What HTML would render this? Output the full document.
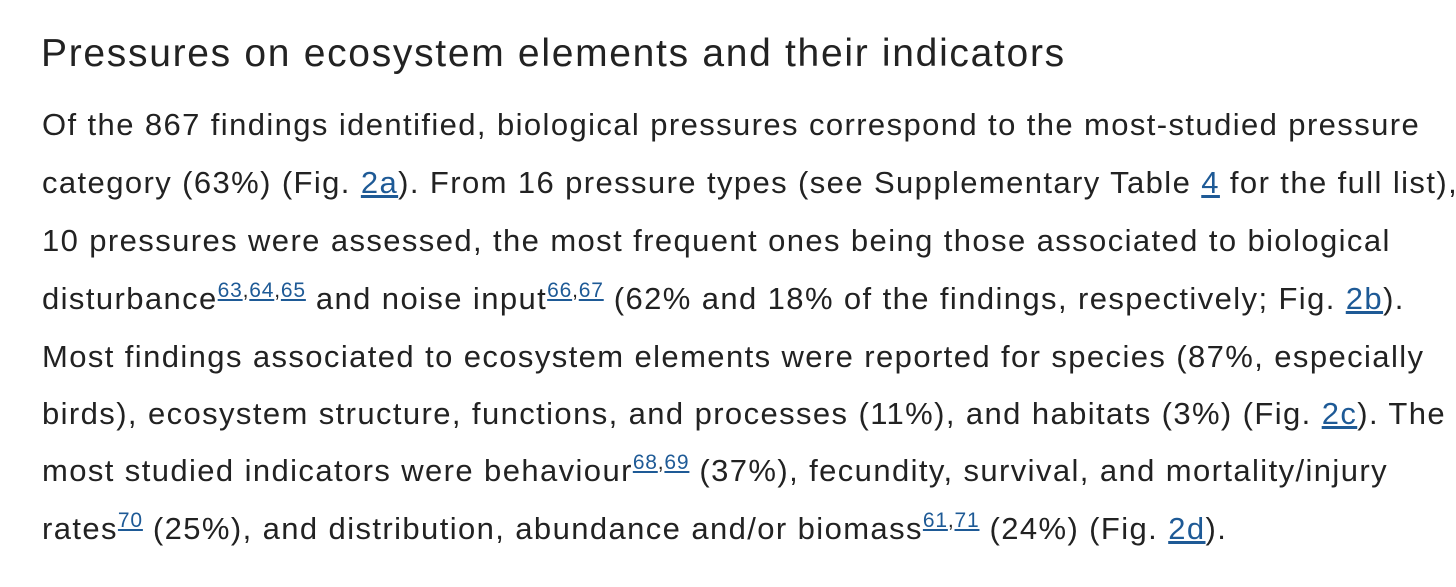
<!DOCTYPE html>
<html><head><meta charset="utf-8">
<style>
html,body{margin:0;padding:0;background:#fff;}
body{width:1456px;height:587px;position:relative;overflow:hidden;font-family:"Liberation Sans",Arial,sans-serif;color:#222;}
h2{position:absolute;left:41px;top:30px;margin:0;font-weight:400;font-size:39px;line-height:48px;white-space:nowrap;letter-spacing:1.7px;}
.l{position:absolute;left:42px;font-size:31px;line-height:40px;white-space:nowrap;letter-spacing:1.4px;}
a{color:#1e5a96;text-decoration:underline;}
sup{font-size:21px;vertical-align:0;position:relative;top:-12px;line-height:0;letter-spacing:0.8px;}
</style></head><body>
<h2>Pressures on ecosystem elements and their indicators</h2>
<div>
<div class="l" style="top:105px">Of the 867 findings identified, biological pressures correspond to the most-studied pressure</div>
<div class="l" style="top:163px">category (63%) (Fig. <a>2a</a>). From 16 pressure types (see Supplementary Table <a>4</a> for the full list),</div>
<div class="l" style="top:221px">10 pressures were assessed, the most frequent ones being those associated to biological</div>
<div class="l" style="top:279px">disturbance<sup><a>63</a>,<a>64</a>,<a>65</a></sup> and noise input<sup><a>66</a>,<a>67</a></sup> (62% and 18% of the findings, respectively; Fig. <a>2b</a>).</div>
<div class="l" style="top:337px">Most findings associated to ecosystem elements were reported for species (87%, especially</div>
<div class="l" style="top:394px">birds), ecosystem structure, functions, and processes (11%), and habitats (3%) (Fig. <a>2c</a>). The</div>
<div class="l" style="top:451px">most studied indicators were behaviour<sup><a>68</a>,<a>69</a></sup> (37%), fecundity, survival, and mortality/injury</div>
<div class="l" style="top:509px">rates<sup><a>70</a></sup> (25%), and distribution, abundance and/or biomass<sup><a>61</a>,<a>71</a></sup> (24%) (Fig. <a>2d</a>).</div>
</div>
</body></html>
